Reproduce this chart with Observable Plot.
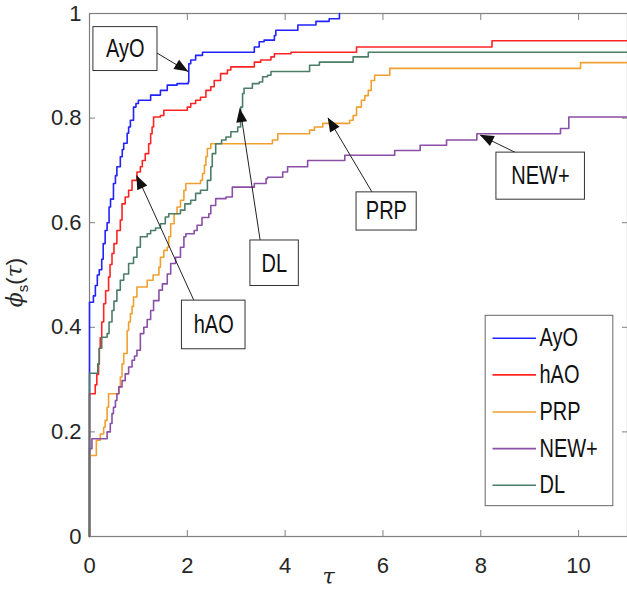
<!DOCTYPE html>
<html>
<head>
<meta charset="utf-8">
<script src="https://cdn.jsdelivr.net/npm/d3@7"></script>
<script src="https://cdn.jsdelivr.net/npm/@observablehq/plot@0.6"></script>
<style>
  html, body { margin: 0; padding: 0; background: #fff; }
  #chart svg { display: block; }
</style>
</head>
<body>
<div id="chart"></div>
<script>
// ---- data ----
const seriesNames = ["AyO", "hAO", "PRP", "NEW+", "DL"];
const seriesColors = ["#2222ff", "#ff2424", "#f0a030", "#8a4fa6", "#4b7d67"];

const ayo = [[0,0],[0,0.448],[0.08,0.46],[0.12,0.48],[0.16,0.5],[0.2,0.51],[0.25,0.53],[0.28,0.56],[0.32,0.585],[0.36,0.6],[0.4,0.63],[0.43,0.645],[0.49,0.675],[0.53,0.69],[0.56,0.707],[0.63,0.726],[0.67,0.74],[0.7,0.752],[0.77,0.771],[0.8,0.783],[0.836,0.796],[0.9,0.821],[0.95,0.828],[1.0,0.834],[1.25,0.844],[1.45,0.853],[1.59,0.863],[1.79,0.866],[2.02,0.869],[2.03,0.904],[2.07,0.911],[2.17,0.92],[2.31,0.926],[3.37,0.936],[3.47,0.946],[3.57,0.949],[3.78,0.958],[3.81,0.968],[4.26,0.978],[4.63,0.985],[4.9,0.99],[5.11,1.0]];

const hao = [[0,0],[0,0.273],[0.1,0.273],[0.117,0.29],[0.15,0.31],[0.185,0.33],[0.2,0.36],[0.22,0.38],[0.25,0.41],[0.29,0.445],[0.33,0.47],[0.39,0.496],[0.42,0.52],[0.46,0.541],[0.5,0.56],[0.56,0.585],[0.63,0.605],[0.665,0.636],[0.73,0.649],[0.8,0.662],[0.87,0.681],[0.97,0.697],[1.04,0.707],[1.08,0.719],[1.14,0.732],[1.21,0.751],[1.25,0.77],[1.28,0.783],[1.31,0.802],[1.45,0.805],[1.52,0.815],[2.0,0.821],[2.07,0.828],[2.17,0.834],[2.27,0.84],[2.38,0.853],[2.48,0.86],[2.55,0.872],[2.68,0.885],[2.82,0.892],[2.89,0.898],[3.37,0.907],[3.5,0.911],[3.71,0.917],[3.78,0.923],[4.12,0.926],[5.46,0.936],[8.23,0.948],[11,0.948]];

const prp = [[0,0],[0,0.155],[0.12,0.155],[0.14,0.184],[0.22,0.196],[0.29,0.209],[0.32,0.222],[0.36,0.247],[0.39,0.273],[0.56,0.273],[0.6,0.286],[0.63,0.305],[0.665,0.33],[0.7,0.35],[0.77,0.394],[0.8,0.41],[0.836,0.426],[0.87,0.44],[0.9,0.458],[0.97,0.477],[1.18,0.49],[1.3,0.5],[1.42,0.515],[1.45,0.534],[1.52,0.547],[1.59,0.553],[1.62,0.573],[1.66,0.598],[1.73,0.617],[1.79,0.63],[1.86,0.643],[1.93,0.662],[1.97,0.675],[2.27,0.681],[2.31,0.694],[2.35,0.71],[2.38,0.726],[2.41,0.742],[2.48,0.751],[3.74,0.758],[3.85,0.77],[4.5,0.777],[4.6,0.783],[4.77,0.79],[5.32,0.796],[5.39,0.805],[5.46,0.821],[5.56,0.834],[5.63,0.843],[5.7,0.853],[5.76,0.872],[5.83,0.882],[6.14,0.895],[10.04,0.906],[11,0.906]];

const newp = [[0,0],[0,0.168],[0.05,0.187],[0.36,0.2],[0.425,0.216],[0.46,0.235],[0.49,0.247],[0.53,0.26],[0.56,0.273],[0.6,0.286],[0.665,0.298],[0.73,0.311],[0.8,0.324],[0.87,0.337],[0.92,0.345],[0.97,0.356],[1.04,0.388],[1.11,0.4],[1.18,0.415],[1.25,0.432],[1.31,0.451],[1.42,0.471],[1.49,0.483],[1.59,0.502],[1.66,0.522],[1.76,0.534],[1.86,0.553],[1.93,0.573],[1.97,0.579],[2.14,0.585],[2.2,0.595],[2.3,0.61],[2.44,0.617],[2.48,0.633],[2.58,0.646],[2.79,0.649],[2.92,0.668],[3.37,0.675],[3.61,0.684],[3.64,0.687],[3.95,0.697],[4.05,0.707],[4.46,0.719],[5.22,0.729],[6.24,0.738],[6.76,0.748],[7.3,0.758],[7.92,0.77],[9.63,0.78],[9.8,0.802],[11,0.802]];

const dl = [[0,0],[0,0.312],[0.15,0.312],[0.17,0.33],[0.2,0.36],[0.25,0.381],[0.36,0.388],[0.4,0.41],[0.46,0.432],[0.5,0.45],[0.56,0.471],[0.63,0.49],[0.7,0.502],[0.8,0.522],[0.9,0.534],[0.97,0.553],[1.04,0.573],[1.18,0.579],[1.25,0.585],[1.35,0.59],[1.45,0.598],[1.55,0.611],[1.62,0.617],[1.86,0.624],[1.95,0.636],[2.07,0.643],[2.17,0.656],[2.27,0.662],[2.41,0.681],[2.48,0.707],[2.51,0.732],[2.58,0.751],[2.7,0.758],[2.79,0.764],[2.89,0.774],[3.03,0.783],[3.09,0.821],[3.13,0.847],[3.16,0.857],[3.33,0.866],[3.47,0.869],[3.54,0.879],[3.64,0.882],[3.71,0.889],[4.5,0.901],[4.7,0.907],[5.39,0.917],[5.7,0.926],[11,0.926]];

const seriesData = [ayo, hao, prp, newp, dl];

const xTicks = [0, 2, 4, 6, 8, 10];
const yTicks = [0, 0.2, 0.4, 0.6, 0.8, 1];

// annotation boxes: label, box centre, box extent, arrow from -> to (data units)
const annLabels = ["AyO", "hAO", "DL", "PRP", "NEW+"];
const annCenter = [[0.73, 0.932], [2.54, 0.405], [3.78, 0.522], [6.07, 0.622], [9.22, 0.689]];
const annBox = [[0.08, 1.39, 0.890, 0.974], [1.89, 3.19, 0.358, 0.451], [3.29, 4.28, 0.479, 0.566], [5.46, 6.69, 0.585, 0.658], [8.32, 10.13, 0.644, 0.734]];
const annFrom = [[1.28, 0.930], [2.20, 0.438], [3.49, 0.566], [5.78, 0.658], [8.78, 0.731]];
const annTo = [[2.03, 0.888], [0.97, 0.690], [3.08, 0.818], [4.88, 0.800], [7.99, 0.767]];

// legend layout (data units)
const legendBox = [8.10, 10.71, 0.058, 0.422];
const legendRowY = [0.379, 0.309, 0.238, 0.168, 0.098];
const legendLineX = [8.25, 9.14];
const legendTextX = 9.2;

// ---- build tables ----
const table = seriesNames.flatMap((s, i) => seriesData[i].map(([tau, phi]) => ({series: s, tau, phi})));
const ann = annLabels.map((label, i) => ({
  label, cx: annCenter[i][0], cy: annCenter[i][1],
  bx1: annBox[i][0], bx2: annBox[i][1], by1: annBox[i][2], by2: annBox[i][3],
  fx: annFrom[i][0], fy: annFrom[i][1], tx: annTo[i][0], ty: annTo[i][1]
}));
const legendRows = seriesNames.map((s, i) => ({series: s, y: legendRowY[i]}));

const textFont = "'Liberation Sans', Arial, sans-serif";
const tickFont = "'Liberation Sans', Arial, sans-serif";
const frameColor = "#7f7f7f";

const chart = Plot.plot({
  width: 627,
  height: 589,
  marginLeft: 89,
  marginRight: 0,
  marginTop: 13,
  marginBottom: 53,
  style: {fontFamily: tickFont, fontSize: "22px", color: "#262626", background: "white", overflow: "visible"},
  x: {domain: [0, 11]},
  y: {domain: [0, 1]},
  color: {domain: seriesNames, range: seriesColors},
  marks: [
    Plot.frame({stroke: frameColor, strokeWidth: 1.2}),
    Plot.axisX({ticks: xTicks, tickSize: -6, tickPadding: 27, stroke: frameColor, tickFormat: d => String(d), label: null, fontSize: 22}),
    Plot.axisX({anchor: "top", ticks: xTicks, tickSize: -6, tickFormat: () => "", stroke: frameColor, label: null}),
    Plot.axisY({ticks: yTicks, tickSize: -6, tickPadding: 14, stroke: frameColor, tickFormat: d => String(d), label: null, fontSize: 22}),
    Plot.axisY({anchor: "right", ticks: yTicks, tickSize: -6, tickFormat: () => "", stroke: frameColor, label: null}),
    Plot.line(table, {x: "tau", y: "phi", z: "series", stroke: "series", curve: "step-after", strokeWidth: 1.6}),
    // annotations
    Plot.link(ann, {x1: "fx", y1: "fy", x2: "tx", y2: "ty", stroke: "#222", strokeWidth: 1}),
    Plot.rect(ann, {x1: "bx1", x2: "bx2", y1: "by1", y2: "by2", fill: "white", stroke: "#333", strokeWidth: 1}),
    Plot.text(ann, {x: "cx", y: "cy", text: "label", fontSize: 25, fontFamily: textFont, fill: "#111"}),
    // legend
    Plot.rect([legendBox], {x1: d => d[0], x2: d => d[1], y1: d => d[2], y2: d => d[3], fill: "white", stroke: "#666", strokeWidth: 1}),
    Plot.ruleY(legendRows, {y: "y", x1: legendLineX[0], x2: legendLineX[1], stroke: "series", strokeWidth: 1.6}),
    Plot.text(legendRows, {x: legendTextX, y: "y", text: "series", textAnchor: "start", fontSize: 25, fontFamily: textFont, fill: "#111"})
  ]
});

document.getElementById("chart").appendChild(chart);

const sx = chart.scale("x"), sy = chart.scale("y");
const svg = d3.select(chart);

// condensed look of the annotation / legend labels
svg.selectAll('g[aria-label="text"] text').each(function() {
  const el = d3.select(this);
  const x = +(el.attr("x") || 0);
  const t = el.attr("transform") || "";
  el.attr("transform", `${t} translate(${x},0) scale(0.8,1) translate(${-x},0)`);
});

// filled arrowheads, positioned through the plot's own scales
ann.forEach(a => {
  const x0 = sx.apply(a.fx), y0 = sy.apply(a.fy);
  const x1 = sx.apply(a.tx), y1 = sy.apply(a.ty);
  const ang = Math.atan2(y1 - y0, x1 - x0);
  const L = 14, W = 5.5;
  const bx = x1 - L * Math.cos(ang), by = y1 - L * Math.sin(ang);
  const px = -Math.sin(ang) * W, py = Math.cos(ang) * W;
  svg.append("polygon")
    .attr("points", `${x1},${y1} ${bx + px},${by + py} ${bx - px},${by - py}`)
    .attr("fill", "#111");
});

// axis labels
const ylab = svg.append("text")
  .attr("transform", `translate(22,${sy.apply(0.5) + 8}) rotate(-90)`)
  .attr("text-anchor", "middle")
  .attr("font-family", tickFont)
  .attr("font-size", 22)
  .attr("fill", "#262626");
ylab.append("tspan").attr("font-style", "italic").attr("font-family", "'DejaVu Serif', serif").text("ϕ");
ylab.append("tspan").attr("font-size", 15).attr("dy", 6).text("s");
ylab.append("tspan").attr("dy", -6).text("(");
ylab.append("tspan").attr("font-style", "italic").attr("font-family", "'DejaVu Serif', serif").text("τ");
ylab.append("tspan").text(")");

svg.append("text")
  .attr("x", sx.apply(4.9))
  .attr("y", 584)
  .attr("text-anchor", "middle")
  .attr("font-family", "'DejaVu Serif', serif")
  .attr("font-style", "italic")
  .attr("font-size", 22)
  .attr("fill", "#262626")
  .text("τ");
</script>
</body>
</html>
